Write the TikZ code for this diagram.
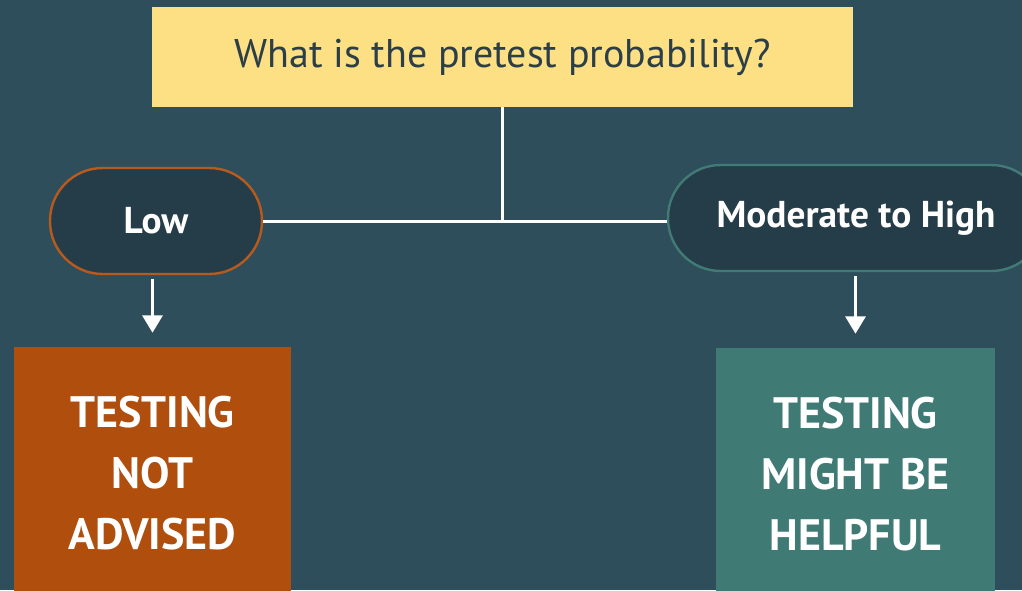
\documentclass[tikz,border=0pt]{standalone}
\usepackage{fontspec}
\setmainfont{PT Sans}
\usetikzlibrary{arrows.meta}
\definecolor{bgteal}{RGB}{46,78,91}
\definecolor{qyellow}{RGB}{252,224,131}
\definecolor{qtext}{RGB}{44,62,72}
\definecolor{pillfill}{RGB}{37,61,73}
\definecolor{lowline}{RGB}{184,90,30}
\definecolor{highline}{RGB}{66,122,117}
\definecolor{noorange}{RGB}{176,78,14}
\definecolor{yesteal}{RGB}{64,122,116}
\tikzset{%
  box/.style      = {shape=rectangle, inner sep=0pt, align=center},%
  question/.style = {box, fill=qyellow, text=qtext,%
                     font=\fontsize{30}{34}\selectfont,%
                     minimum width=525.75pt, minimum height=75pt},%
  pill/.style     = {box, rounded corners=39.5pt, fill=pillfill,%
                     line width=1.8pt, text=white,%
                     font=\bfseries\fontsize{28}{32}\selectfont,%
                     minimum height=79.5pt},%
  verdict/.style  = {box, text=white, minimum height=189.75pt,%
                     font=\bfseries\fontsize{33}{45.75}\selectfont},%
  link/.style     = {draw=white, line width=2.25pt}%
}
\begin{document}
\begin{tikzpicture}[x=0.75pt,y=-0.75pt,arrow/.style={link,-{Triangle[width=15pt,length=13pt]},shorten <=3pt,shorten >=10.5pt}]
	\useasboundingbox (0,0) rectangle (1022,590);
	\fill[bgteal] (0,0) rectangle (1022,590);
	\clip (0,0) rectangle (1022,590);
	% question and the two answers
	\node[question] (q) at (502.5,57) {What is the pretest probability?};
	\node[pill, draw=lowline, minimum width=159pt] (low) at (156,221) {Low};
	\node[pill, draw=highline, minimum width=282pt] (high) at (856,218) {Moderate to High};
	% outcomes
	\node[verdict, fill=noorange, minimum width=207.75pt] (no) at (152.5,473.5) {TESTING\\NOT\\ADVISED};
	\node[verdict, fill=yesteal, minimum width=209.25pt] (yes) at (855.5,474.5) {TESTING\\MIGHT BE\\HELPFUL};
	% connectors
	\draw[link] (q.south) -- (q.south |- low.east);
	\draw[link] (low.east) -- (low.east -| high.west);
	\draw[arrow] (no.north |- low.south) -- (no.north);
	\draw[arrow] (yes.north |- high.south) -- (yes.north);
\end{tikzpicture}
\end{document}
